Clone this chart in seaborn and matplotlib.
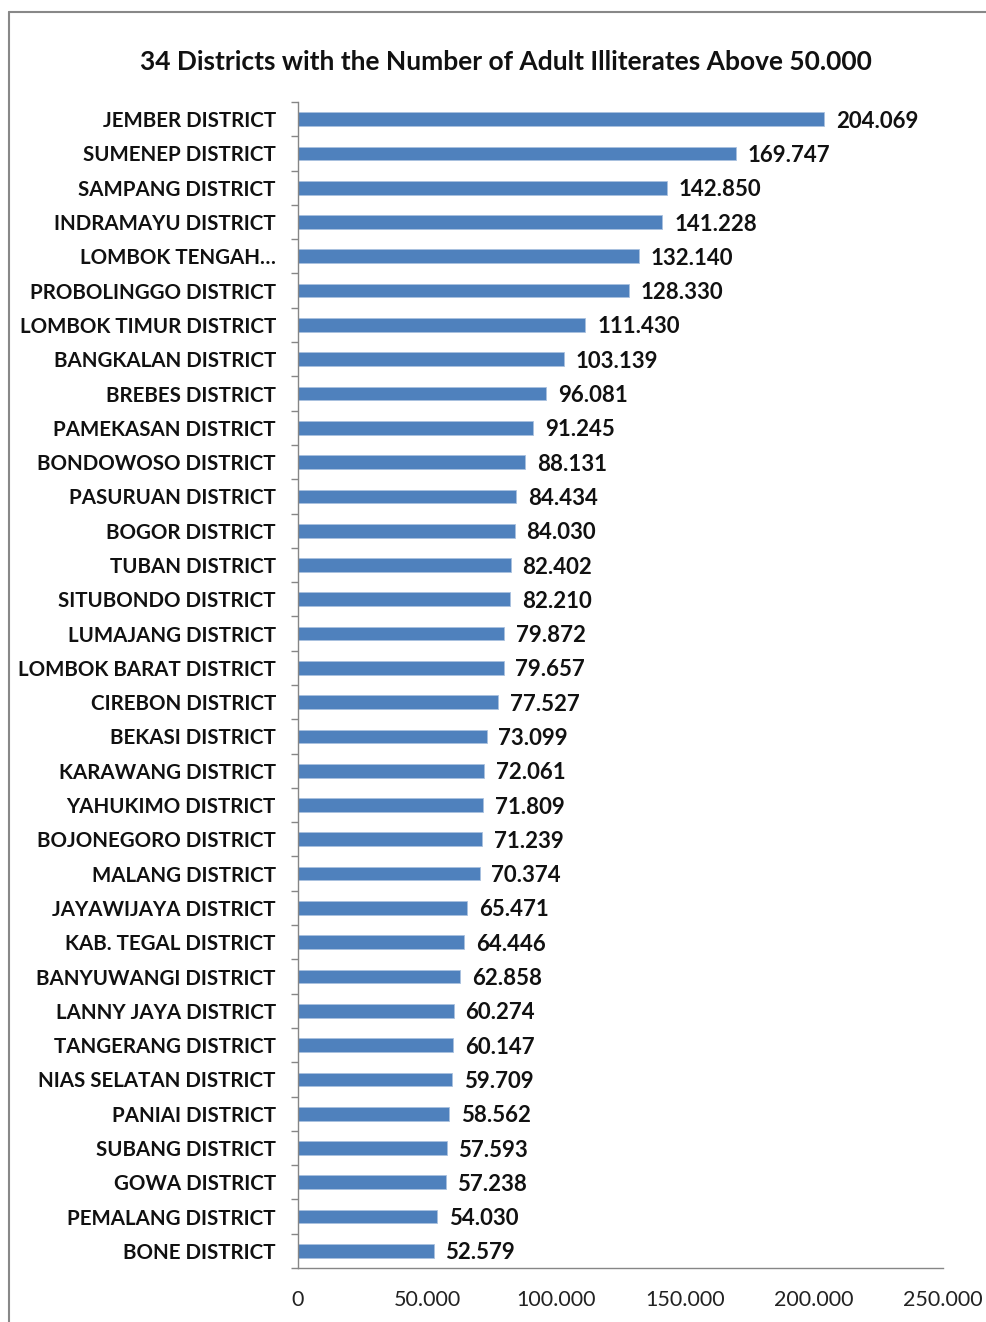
import matplotlib
matplotlib.use("Agg")
import matplotlib.pyplot as plt
import seaborn as sns
import pandas as pd
from matplotlib.ticker import FuncFormatter
from matplotlib.lines import Line2D

districts = [
    "JEMBER DISTRICT", "SUMENEP DISTRICT", "SAMPANG DISTRICT", "INDRAMAYU DISTRICT",
    "LOMBOK TENGAH…", "PROBOLINGGO DISTRICT", "LOMBOK TIMUR DISTRICT", "BANGKALAN DISTRICT",
    "BREBES DISTRICT", "PAMEKASAN DISTRICT", "BONDOWOSO DISTRICT", "PASURUAN DISTRICT",
    "BOGOR DISTRICT", "TUBAN DISTRICT", "SITUBONDO DISTRICT", "LUMAJANG DISTRICT",
    "LOMBOK BARAT DISTRICT", "CIREBON DISTRICT", "BEKASI DISTRICT", "KARAWANG DISTRICT",
    "YAHUKIMO DISTRICT", "BOJONEGORO DISTRICT", "MALANG DISTRICT", "JAYAWIJAYA DISTRICT",
    "KAB. TEGAL DISTRICT", "BANYUWANGI DISTRICT", "LANNY JAYA DISTRICT", "TANGERANG DISTRICT",
    "NIAS SELATAN DISTRICT", "PANIAI DISTRICT", "SUBANG DISTRICT", "GOWA DISTRICT",
    "PEMALANG DISTRICT", "BONE DISTRICT",
]
illiterates = [
    204069, 169747, 142850, 141228, 132140, 128330, 111430, 103139,
    96081, 91245, 88131, 84434, 84030, 82402, 82210, 79872,
    79657, 77527, 73099, 72061, 71809, 71239, 70374, 65471,
    64446, 62858, 60274, 60147, 59709, 58562, 57593, 57238,
    54030, 52579,
]
x_ticks = [0, 50000, 100000, 150000, 200000, 250000]
title = "34 Districts with the Number of Adult Illiterates Above 50.000"

sns.set_theme(style="white")
plt.rcParams["font.family"] = ["Lato", "DejaVu Sans"]

df = pd.DataFrame({"district": districts, "value": illiterates})

fig = plt.figure(figsize=(9.86, 13.22), dpi=100)
ax = fig.add_axes([298/986, 1 - 1268/1322, (943 - 298)/986, (1268 - 102)/1322])

sns.barplot(data=df, y="district", x="value", orient="h", color="#4F81BD",
            saturation=1, width=0.4, ax=ax, edgecolor="#A9C1DF", linewidth=0.6)

ax.set_xlim(0, 250000)
ax.set_ylim(len(districts) - 0.5, -0.5)
ax.set_xticks(x_ticks)
ax.xaxis.set_major_formatter(FuncFormatter(lambda v, p: f"{int(v):,}".replace(",", ".")))
ax.set_xlabel("")
ax.set_ylabel("")

fmt = lambda v: f"{v:,}".replace(",", ".")
for i, v in enumerate(illiterates):
    ax.annotate(fmt(v), (v, i), xytext=(8.5, -1.5), textcoords="offset points",
                ha="left", va="center", fontsize=16, fontweight="bold", color="#111111")

for s in ["top", "right"]:
    ax.spines[s].set_visible(False)
for s in ["left", "bottom"]:
    ax.spines[s].set_color("#868686")
    ax.spines[s].set_linewidth(1.0)

ax.tick_params(axis="x", which="major", direction="out", length=5, width=1,
               color="#868686", labelsize=15.5, labelcolor="#222222", pad=11)
ax.tick_params(axis="y", which="major", length=0, labelsize=14.8, pad=16)
for lab in ax.get_yticklabels():
    lab.set_fontweight("bold")
    lab.set_color("#111111")
# minor ticks between categories
ax.set_yticks([i + 0.5 for i in range(-1, len(districts))], minor=True)
ax.tick_params(axis="y", which="minor", direction="out", length=5, width=1,
               color="#868686", left=True)
ax.grid(False)

fig.text(506/986, 1 - 62/1322, title, ha="center", va="center",
         fontsize=19, fontweight="bold", color="#111111")

fig.add_artist(Line2D([9/986, 9/986], [0, 1 - 12/1322], transform=fig.transFigure,
                      color="#888888", linewidth=1.5))
fig.add_artist(Line2D([9/986, 1], [1 - 12/1322, 1 - 12/1322], transform=fig.transFigure,
                      color="#888888", linewidth=1.5))

fig.savefig("out.png", dpi=100)
